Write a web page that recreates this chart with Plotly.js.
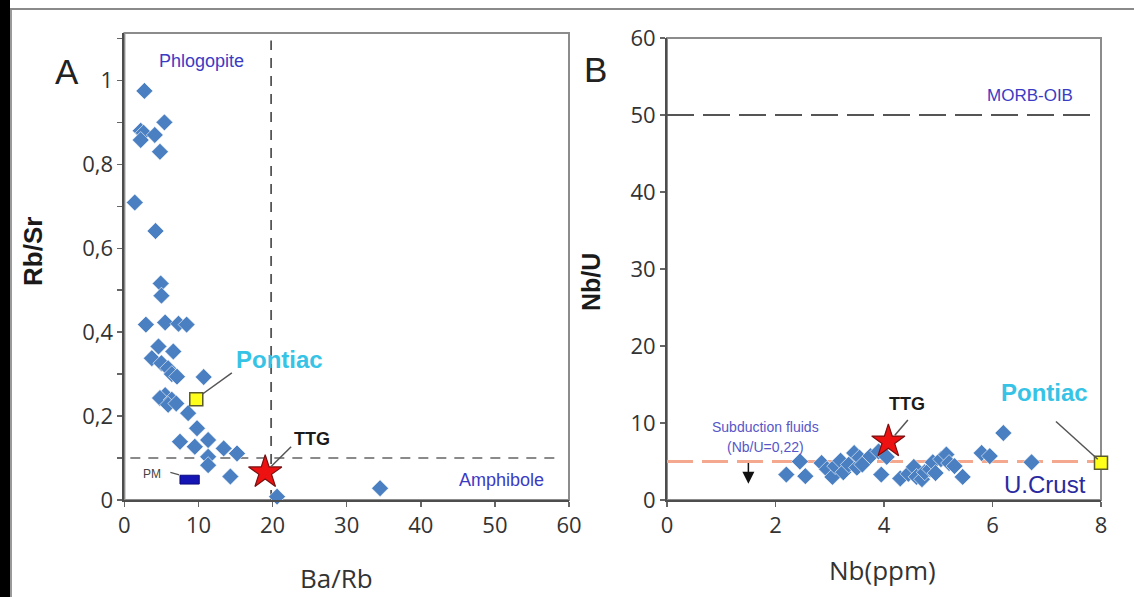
<!DOCTYPE html>
<html><head><meta charset="utf-8">
<script src="https://cdn.plot.ly/plotly-3.0.1.min.js"></script>
<style>
html,body{margin:0;padding:0;background:#fff;overflow:hidden}
#wrap{position:relative;width:1134px;height:597px;overflow:hidden}
#chart{width:1134px;height:597px}
#band{position:absolute;left:0;top:0;width:10px;height:597px;background:#000;z-index:10}
#band2{position:absolute;left:10px;top:8px;width:2px;height:589px;background:#9a9a9a;z-index:10}
#topline{position:absolute;left:10px;top:8px;width:1124px;height:2px;background:#8a8a8a;z-index:10}
</style>
</head><body><div id="wrap"><div id="chart"></div><div id="band"></div><div id="band2"></div><div id="topline"></div></div>
<script>
// ---- Panel A data: Ba/Rb vs Rb/Sr ----
const baRb = [2.7, 2.2, 2.6, 2.2, 4.1, 5.4, 4.8, 1.4, 4.2, 4.9, 5.0, 2.9, 5.5, 7.3, 8.4, 4.6, 3.7, 6.6, 5.0, 5.9, 6.4, 7.1, 10.7, 5.5, 4.8, 6.4, 5.9, 7.0, 8.6, 9.8, 7.5, 9.5, 11.3, 13.4, 15.2, 11.3, 11.3, 14.3, 20.6, 34.5];
const rbSr = [0.975, 0.88, 0.875, 0.858, 0.87, 0.90, 0.83, 0.709, 0.641, 0.516, 0.487, 0.418, 0.423, 0.42, 0.418, 0.366, 0.338, 0.354, 0.326, 0.314, 0.30, 0.294, 0.293, 0.25, 0.243, 0.239, 0.227, 0.23, 0.207, 0.171, 0.139, 0.127, 0.143, 0.123, 0.111, 0.103, 0.083, 0.056, 0.008, 0.028];
const pontiacBaRb = [9.7], pontiacRbSr = [0.24];
const ttgBaRb = [19.0], ttgRbSr = [0.066];
const pmBaRb = [7.5, 10.1], pmRbSr = [0.038, 0.059];
const phlogAmphBaRb = [19.8];
const rbSrLimit = [0.1];

// ---- Panel B data: Nb vs Nb/U ----
const nb  = [2.2, 2.45, 2.55, 2.85, 2.95, 3.05, 3.1, 3.2, 3.25, 3.35, 3.45, 3.5, 3.55, 3.6, 3.75, 3.9, 3.95, 4.05, 4.3, 4.45, 4.55, 4.6, 4.7, 4.75, 4.85, 4.9, 4.95, 5.05, 5.15, 5.2, 5.3, 5.45, 5.8, 5.95, 6.2, 6.72];
const nbU = [3.3, 5.0, 3.1, 4.8, 4.0, 3.0, 4.4, 5.1, 3.6, 4.6, 6.1, 4.2, 5.5, 4.6, 5.7, 6.3, 3.3, 5.6, 2.8, 3.4, 4.3, 3.0, 2.7, 3.6, 4.0, 4.9, 3.5, 5.3, 5.9, 4.8, 4.4, 3.0, 6.1, 5.7, 8.7, 4.9];
const pontiacNb = [8.0], pontiacNbU = [4.85];
const ttgNb = [4.08], ttgNbU = [7.6];
const morbOibNbU = [50];
const uCrustNbU = [5];
const subductionArrowNb = [1.5], subductionArrowNbU = [5.0, 2.1];

const diamond = {symbol: 'diamond', size: 13, color: '#4a7fc1', line: {color: '#ffffff', width: 0.6}};
const square = {symbol: 'square', size: 13, color: '#ffff1a', line: {color: '#5a5a2a', width: 1.5}};
const star = {symbol: 'star', size: 25, color: '#ee1111', line: {color: '#7a1010', width: 1.2}};

const traces = [
  {type: 'scatter', mode: 'markers', x: baRb, y: rbSr, xaxis: 'x', yaxis: 'y', marker: diamond, cliponaxis: false},
  {type: 'scatter', mode: 'markers', x: pontiacBaRb, y: pontiacRbSr, xaxis: 'x', yaxis: 'y', marker: square, cliponaxis: false},
  {type: 'scatter', mode: 'markers', x: ttgBaRb, y: ttgRbSr, xaxis: 'x', yaxis: 'y', marker: star, cliponaxis: false},
  {type: 'scatter', mode: 'markers', x: nb, y: nbU, xaxis: 'x2', yaxis: 'y2', marker: diamond, cliponaxis: false},
  {type: 'scatter', mode: 'markers', x: ttgNb, y: ttgNbU, xaxis: 'x2', yaxis: 'y2', marker: star, cliponaxis: false},
  {type: 'scatter', mode: 'markers', x: pontiacNb, y: pontiacNbU, xaxis: 'x2', yaxis: 'y2', marker: square, cliponaxis: false}
];

const tickFont = {family: 'Open Sans, sans-serif', size: 22, color: '#333333'};
const axisCommon = {
  showgrid: false, zeroline: false, showline: true, linecolor: '#4d4d4d', linewidth: 2,
  ticks: 'outside', ticklen: 5, tickwidth: 1.5, tickcolor: '#666666', tickfont: tickFont,
  automargin: false, fixedrange: true
};

const grayLine = {color: '#8c8c8c', width: 2};
const shapes = [
  // page frame: black strip on the left edge
  {type: 'rect', xref: 'paper', yref: 'paper', x0: -0.01, x1: 10 / 1134, y0: -0.25, y1: 1.1, fillcolor: '#000000', line: {width: 0}, layer: 'above'},
  // subplot frames
  {type: 'rect', xref: 'x domain', yref: 'y domain', x0: 0, x1: 1, y0: 0, y1: 1, line: grayLine, layer: 'below'},
  {type: 'rect', xref: 'x2 domain', yref: 'y2 domain', x0: 0, x1: 1, y0: 0, y1: 1, line: grayLine, layer: 'below'},
  // panel A reference lines
  {type: 'line', xref: 'x', yref: 'y', x0: phlogAmphBaRb[0], x1: phlogAmphBaRb[0], y0: 0, y1: 1.095, line: {color: '#555555', width: 1.8, dash: '10px,8px'}, layer: 'below'},
  {type: 'line', xref: 'x', yref: 'y', x0: 0.8, x1: 59, y0: rbSrLimit[0], y1: rbSrLimit[0], line: {color: '#8a8a8a', width: 2, dash: '10px,8px'}, layer: 'below'},
  // PM box
  {type: 'rect', xref: 'x', yref: 'y', x0: pmBaRb[0], x1: pmBaRb[1], y0: pmRbSr[0], y1: pmRbSr[1], fillcolor: '#1515b5', line: {color: '#0a0a80', width: 1}},
  {type: 'line', xref: 'x', yref: 'y', x0: 6.2, y0: 0.066, x1: 7.4, y1: 0.060, line: {color: '#555555', width: 1.2}},
  // leader lines panel A
  {type: 'line', xref: 'x', yref: 'y', x0: 14.5, y0: 0.303, x1: 10.5, y1: 0.252, line: {color: '#555555', width: 1.5}},
  {type: 'line', xref: 'x', yref: 'y', x0: 22.5, y0: 0.127, x1: 19.8, y1: 0.08, line: {color: '#555555', width: 1.5}},
  // panel B reference lines
  {type: 'line', xref: 'x2', yref: 'y2', x0: 0, x1: 7.85, y0: morbOibNbU[0], y1: morbOibNbU[0], line: {color: '#555555', width: 2, dash: '27px,9px'}, layer: 'below'},
  {type: 'line', xref: 'x2', yref: 'y2', x0: 0, x1: 8, y0: uCrustNbU[0], y1: uCrustNbU[0], line: {color: '#f4a88e', width: 3, dash: '26px,9px'}, layer: 'below'},
  // leader lines panel B
  {type: 'line', xref: 'x2', yref: 'y2', x0: 4.44, y0: 10.4, x1: 4.2, y1: 8.4, line: {color: '#555555', width: 1.5}},
  {type: 'line', xref: 'x2', yref: 'y2', x0: 7.17, y0: 10.2, x1: 7.94, y1: 5.3, line: {color: '#555555', width: 1.5}}
];

const lab = (family, size, color, weight) => ({family: family, size: size, color: color, weight: weight || 'normal'});
const arial = 'Liberation Sans, Arial, sans-serif';
const ann = (xref, yref, x, y, text, font, extra) => Object.assign({xref: xref, yref: yref, x: x, y: y, text: text, showarrow: false, font: font, xanchor: 'center', yanchor: 'middle'}, extra || {});

const annotations = [
  ann('paper', 'paper', 67 / 1134, 0.9165, 'A', lab(arial, 35, '#222222')),
  ann('paper', 'paper', 595 / 1134, 0.9208, 'B', lab(arial, 35, '#222222')),
  ann('x', 'y', 10.35, 1.046, 'Phlogopite', lab(arial, 18, '#3b3bc4')),
  ann('x', 'y', 50.9, 0.048, 'Amphibole', lab(arial, 18, '#3b3bc4')),
  ann('x', 'y', 20.9, 0.334, 'Pontiac', lab(arial, 24, '#36c3e6', 'bold')),
  ann('x', 'y', 25.35, 0.145, 'TTG', lab(arial, 18, '#1a1a1a', 'bold')),
  ann('x', 'y', 3.7, 0.062, 'PM', lab(arial, 12, '#444444')),
  ann('x2', 'y2', 6.69, 52.5, 'MORB-OIB', lab(arial, 17, '#3b3bc4')),
  ann('x2', 'y2', 1.81, 9.5, 'Subduction fluids', lab(arial, 14, '#5656c8')),
  ann('x2', 'y2', 1.81, 6.9, '(Nb/U=0,22)', lab(arial, 14, '#5656c8')),
  ann('x2', 'y2', 4.42, 12.5, 'TTG', lab(arial, 18, '#1a1a1a', 'bold')),
  ann('x2', 'y2', 6.95, 14.0, 'Pontiac', lab(arial, 24, '#36c3e6', 'bold')),
  ann('x2', 'y2', 6.97, 1.95, 'U.Crust', lab(arial, 24, '#2a2aa0')),
  // subduction-fluid arrow
  {xref: 'x2', yref: 'y2', axref: 'x2', ayref: 'y2', x: subductionArrowNb[0], y: subductionArrowNbU[1], ax: subductionArrowNb[0], ay: subductionArrowNbU[0], text: '', showarrow: true, arrowhead: 2, arrowsize: 1.6, arrowwidth: 1.5, arrowcolor: '#111111'},
  // axis titles
  ann('paper', 'paper', 33 / 1134, (500 - 252) / 467, '<b>Rb/Sr</b>', lab(arial, 26, '#1a1a1a'), {textangle: -90}),
  ann('paper', 'paper', 591 / 1134, (500 - 282) / 467, '<b>Nb/U</b>', lab(arial, 25, '#1a1a1a'), {textangle: -90}),
  ann('paper', 'paper', 336 / 1134, (500 - 578) / 467, 'Ba/Rb', lab('Open Sans, sans-serif', 26, '#333333')),
  ann('paper', 'paper', 882 / 1134, (500 - 570) / 467, 'Nb(ppm)', lab('Open Sans, sans-serif', 26, '#333333'))
];

const layout = {
  width: 1134, height: 597,
  margin: {l: 0, r: 0, t: 33, b: 97, pad: 0},
  paper_bgcolor: '#ffffff', plot_bgcolor: '#ffffff',
  showlegend: false,
  separators: ', ',
  xaxis: Object.assign({}, axisCommon, {domain: [124.4 / 1134, 569 / 1134], range: [0, 60], dtick: 10, tick0: 0, anchor: 'y'}),
  yaxis: Object.assign({}, axisCommon, {domain: [0, 1], range: [0, 1.113], dtick: 0.2, tick0: 0, anchor: 'x',
    minor: {dtick: 0.1, tick0: 0, ticks: 'outside', ticklen: 5, tickwidth: 1.5, tickcolor: '#666666', showgrid: false}}),
  xaxis2: Object.assign({}, axisCommon, {domain: [667 / 1134, 1101 / 1134], range: [0, 8], dtick: 2, tick0: 0, anchor: 'y2'}),
  yaxis2: Object.assign({}, axisCommon, {domain: [0, 462 / 467], range: [0, 60], dtick: 10, tick0: 0, anchor: 'x2'}),
  shapes: shapes,
  annotations: annotations
};

Plotly.newPlot('chart', traces, layout, {displayModeBar: false, staticPlot: true});
</script></body></html>
